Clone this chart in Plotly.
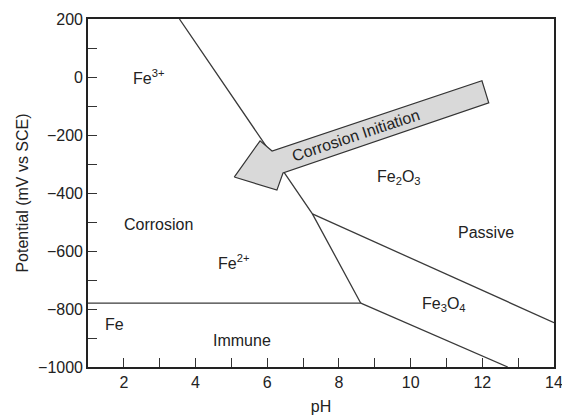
import plotly.graph_objects as go

# Boundary lines (pH, potential mV vs SCE)
fe3_fe2_ph = [3.55, 7.26, 8.61]
fe3_fe2_mv = [200, -472, -780]
immune_ph = [1.0, 8.61]
immune_mv = [-780, -780]
fe3o4_low_ph = [8.61, 12.71]
fe3o4_low_mv = [-780, -1000]
fe2o3_fe3o4_ph = [7.26, 14.0]
fe2o3_fe3o4_mv = [-472, -847]

# Region labels
label_text = ["Fe<sup>3+</sup>", "Corrosion", "Fe<sup>2+</sup>", "Fe", "Immune",
              "Fe<sub>2</sub>O<sub>3</sub>", "Passive", "Fe<sub>3</sub>O<sub>4</sub>"]
label_ph = [2.68, 2.98, 5.05, 1.73, 5.30, 9.67, 12.1, 10.93]
label_mv = [0, -507, -637, -852, -910, -347, -537, -786]

# Block arrow outline ("Corrosion Initiation")
arrow_ph = [5.08, 5.80, 6.135, 11.99, 12.18, 6.44, 6.27, 5.08]
arrow_mv = [-345, -220, -255, -13, -89, -331, -390, -345]
arrow_text = "Corrosion Initiation"
arrow_text_ph = 8.45
arrow_text_mv = -200

line_col = "#3a3a3a"
FS = 16
fig = go.Figure()
for xs, ys in [(fe3_fe2_ph, fe3_fe2_mv), (immune_ph, immune_mv),
               (fe3o4_low_ph, fe3o4_low_mv), (fe2o3_fe3o4_ph, fe2o3_fe3o4_mv)]:
    fig.add_trace(go.Scatter(x=xs, y=ys, mode="lines",
                             line=dict(color=line_col, width=1.3),
                             hoverinfo="skip", showlegend=False))

fig.add_trace(go.Scatter(x=arrow_ph, y=arrow_mv, mode="lines", fill="toself",
                         fillcolor="#d9d9d9", line=dict(color="#333333", width=1.2),
                         hoverinfo="skip", showlegend=False))

for t, x, y in zip(label_text, label_ph, label_mv):
    fig.add_annotation(x=x, y=y, text=t, showarrow=False,
                       font=dict(size=FS, color="#222222"))

fig.add_annotation(x=arrow_text_ph, y=arrow_text_mv, text=arrow_text, showarrow=False,
                   textangle=-18.5, font=dict(size=FS, color="#222222"))

fig.update_layout(
    width=562, height=416,
    margin=dict(l=88, r=8, t=19, b=49),
    paper_bgcolor="white", plot_bgcolor="white",
    font=dict(family="Liberation Sans, Arial, sans-serif", size=FS, color="#222222"),
    showlegend=False,
)
fig.update_xaxes(
    range=[1, 14], tickvals=[2, 4, 6, 8, 10, 12, 14],
    ticks="inside", ticklen=9, tickwidth=1.3, tickcolor="#333333",
    minor=dict(tickvals=[3, 5, 7, 9, 11, 13], ticks="inside", ticklen=9,
               tickwidth=1.3, tickcolor="#333333"),
    showline=True, linecolor="#222222", linewidth=1.6, mirror=True,
    showgrid=False, zeroline=False, automargin=False,
    ticklabeloverflow="allow",
    tickfont=dict(size=FS),
    title=dict(text="pH", font=dict(size=FS), standoff=11),
)
fig.update_yaxes(
    range=[-1000, 200], tickvals=[-1000, -800, -600, -400, -200, 0, 200],
    ticks="inside", ticklen=9, tickwidth=1.3, tickcolor="#333333",
    minor=dict(tickvals=[-900, -700, -500, -300, -100, 100], ticks="inside",
               ticklen=9, tickwidth=1.3, tickcolor="#333333"),
    showline=True, linecolor="#222222", linewidth=1.6, mirror=True,
    showgrid=False, zeroline=False, automargin=False,
    ticklabeloverflow="allow",
    tickfont=dict(size=FS),
    title=dict(text="Potential (mV vs SCE)", font=dict(size=FS), standoff=5),
)

fig.write_html("out.html", config={"displayModeBar": False},
               post_script="document.body.style.margin='0';document.body.style.overflow='hidden';")
